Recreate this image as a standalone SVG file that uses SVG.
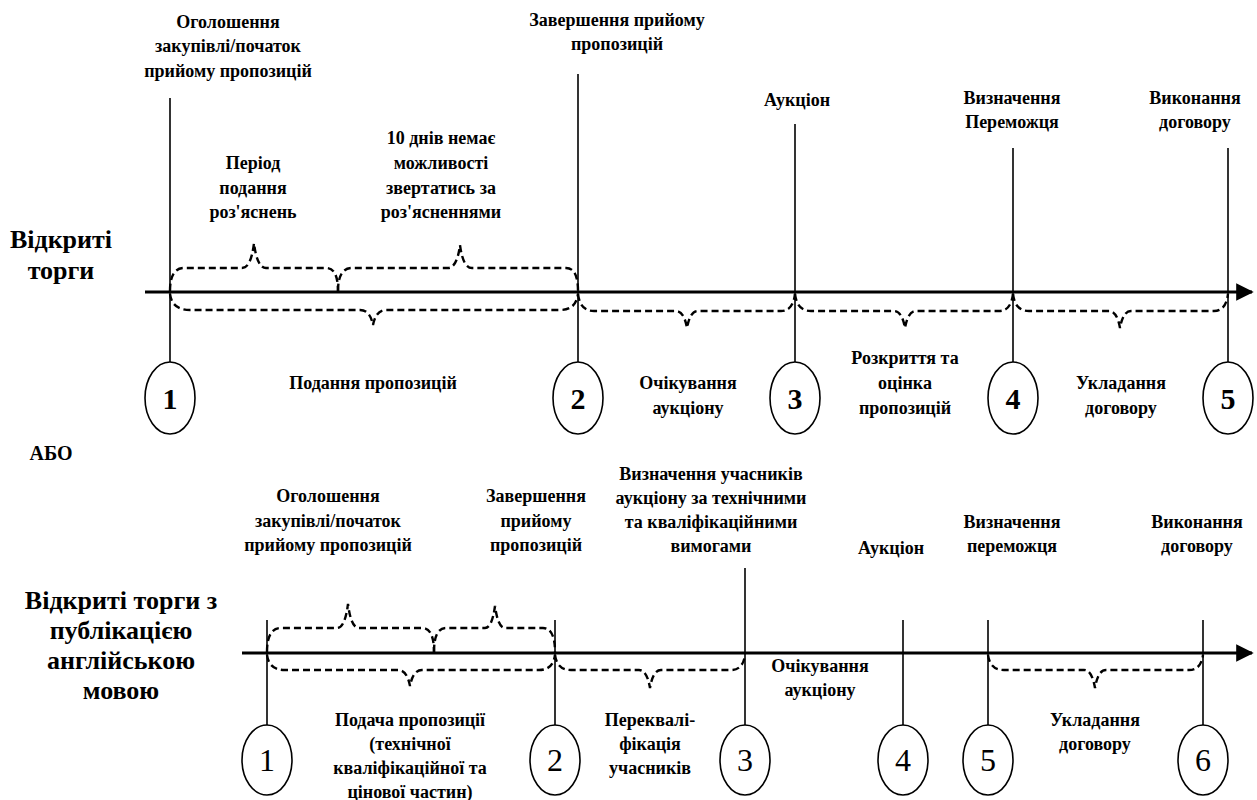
<svg xmlns="http://www.w3.org/2000/svg" width="1257" height="800" viewBox="0 0 1257 800">
<style>
  .lb { font-size: 18px; font-weight: bold; }
  .abo { font-size: 20px; font-weight: bold; }
  .big { font-size: 26px; font-weight: bold; }
  .numb { font-size: 30px; font-weight: bold; }
  .numn { font-size: 32px; font-weight: normal; }
  .vl { stroke: #000; stroke-width: 1.6; fill: none; }
  .ax { stroke: #000; stroke-width: 3.2; fill: none; }
  .el { stroke: #000; stroke-width: 1.6; fill: #fff; }
  .br { stroke: #000; stroke-width: 2.4; fill: none; stroke-dasharray: 7 4; }
</style>
<defs>
  <marker id="arr" viewBox="0 0 10 10" refX="9" refY="5" markerWidth="6" markerHeight="5.5" orient="auto" markerUnits="strokeWidth">
    <path d="M0,0 L10,5 L0,10 Z" fill="#000"/>
  </marker>
</defs>
<rect width="1257" height="800" fill="#fff"/>

<g id="connectors">
  <line class="ax" x1="145" y1="292" x2="1252" y2="292" marker-end="url(#arr)"/>
  <line class="ax" x1="242" y1="653" x2="1252" y2="653" marker-end="url(#arr)"/>
  <path class="br" d="M170,291 Q170,268 184,268 L242,268 Q251,268 254,243 Q257,268 266,268 L326,268 Q338,268 338,291"/>
  <path class="br" d="M338,291 Q338,268 352,268 L448,268 Q457,268 460,245 Q463,268 472,268 L566,268 Q578,268 578,291"/>
  <path class="br" d="M170,294 Q172,310 190,310 L360,310 Q370,310 373,325 Q376,310 386,310 L560,310 Q576,310 578,294"/>
  <path class="br" d="M578,294 Q580,311 594,311 L676,311 Q684,311 687,328 Q690,311 698,311 L781,311 Q793,311 795,294"/>
  <path class="br" d="M795,294 Q797,311 811,311 L894,311 Q902,311 905,328 Q908,311 916,311 L999,311 Q1011,311 1013,294"/>
  <path class="br" d="M1013,294 Q1015,311 1029,311 L1109,311 Q1117,311 1120,328 Q1123,311 1131,311 L1214,311 Q1226,311 1228,294"/>
  <path class="br" d="M267,652 Q267,628 281,628 L337,628 Q345,628 348,604 Q351,628 359,628 L422,628 Q434,628 434,652"/>
  <path class="br" d="M434,652 Q434,628 446,628 L485,628 Q492,628 495,606 Q498,628 505,628 L543,628 Q555,628 555,652"/>
  <path class="br" d="M267,655 Q269,670 285,670 L398,670 Q407,670 410,686 Q413,670 422,670 L539,670 Q553,670 555,655"/>
  <path class="br" d="M555,655 Q557,670 571,670 L639,670 Q647,670 650,688 Q653,670 661,670 L731,670 Q743,670 745,655"/>
  <path class="br" d="M988,655 Q990,670 1004,670 L1084,670 Q1092,670 1095,688 Q1098,670 1106,670 L1189,670 Q1201,670 1203,655"/>
</g>

<g font-family="Liberation Serif, DejaVu Serif, serif" text-anchor="middle" fill="#000">
<g id="m1">
  <line class="vl" x1="170" y1="98" x2="170" y2="362"/>
  <ellipse class="el" cx="170" cy="398" rx="25" ry="36"/>
  <text class="numb" x="170" y="409">1</text>
</g>
<g id="m2">
  <line class="vl" x1="578" y1="74" x2="578" y2="362"/>
  <ellipse class="el" cx="578" cy="398" rx="25" ry="36"/>
  <text class="numb" x="578" y="409">2</text>
</g>
<g id="m3">
  <line class="vl" x1="795" y1="124" x2="795" y2="362"/>
  <ellipse class="el" cx="795" cy="398" rx="25" ry="36"/>
  <text class="numb" x="795" y="409">3</text>
</g>
<g id="m4">
  <line class="vl" x1="1013" y1="148" x2="1013" y2="362"/>
  <ellipse class="el" cx="1013" cy="398" rx="25" ry="36"/>
  <text class="numb" x="1013" y="409">4</text>
</g>
<g id="m5">
  <line class="vl" x1="1228" y1="148" x2="1228" y2="362"/>
  <ellipse class="el" cx="1228" cy="398" rx="25" ry="36"/>
  <text class="numb" x="1228" y="409">5</text>
</g>

<g id="t-title">
  <text class="big" x="61" y="248">Відкриті</text>
  <text class="big" x="61" y="279">торги</text>
</g>
<g id="t-ogol">
  <text class="lb" x="228" y="28">Оголошення</text>
  <text class="lb" x="228" y="52">закупівлі/початок</text>
  <text class="lb" x="228" y="77">прийому пропозицій</text>
</g>
<g id="t-zav">
  <text class="lb" x="617" y="26">Завершення прийому</text>
  <text class="lb" x="617" y="50">пропозицій</text>
</g>
<g id="t-auk">
  <text class="lb" x="797" y="106">Аукціон</text>
</g>
<g id="t-vyzn">
  <text class="lb" x="1012" y="104">Визначення</text>
  <text class="lb" x="1012" y="128">Переможця</text>
</g>
<g id="t-vyk">
  <text class="lb" x="1195" y="104">Виконання</text>
  <text class="lb" x="1195" y="128">договору</text>
</g>
<g id="t-period">
  <text class="lb" x="253" y="169">Період</text>
  <text class="lb" x="253" y="194">подання</text>
  <text class="lb" x="253" y="218">роз'яснень</text>
</g>
<g id="t-10dniv">
  <text class="lb" x="441" y="144">10 днів немає</text>
  <text class="lb" x="441" y="169">можливості</text>
  <text class="lb" x="441" y="194">звертатись за</text>
  <text class="lb" x="441" y="218">роз'ясненнями</text>
</g>
<g id="t-podannia">
  <text class="lb" x="373" y="389">Подання пропозицій</text>
</g>
<g id="t-ochik1">
  <text class="lb" x="688" y="389">Очікування</text>
  <text class="lb" x="688" y="414">аукціону</text>
</g>
<g id="t-rozkr">
  <text class="lb" x="905" y="364">Розкриття та</text>
  <text class="lb" x="905" y="389">оцінка</text>
  <text class="lb" x="905" y="414">пропозицій</text>
</g>
<g id="t-uklad1">
  <text class="lb" x="1121" y="389">Укладання</text>
  <text class="lb" x="1121" y="414">договору</text>
</g>

<g id="t-abo">
  <text class="abo" x="51" y="460">АБО</text>
</g>

<g id="b1">
  <line class="vl" x1="267" y1="620" x2="267" y2="725"/>
  <ellipse class="el" cx="267" cy="760" rx="25" ry="35"/>
  <text class="numn" x="267" y="771">1</text>
</g>
<g id="b2">
  <line class="vl" x1="555" y1="620" x2="555" y2="725"/>
  <ellipse class="el" cx="555" cy="760" rx="25" ry="35"/>
  <text class="numn" x="555" y="771">2</text>
</g>
<g id="b3">
  <line class="vl" x1="745" y1="568" x2="745" y2="725"/>
  <ellipse class="el" cx="745" cy="760" rx="25" ry="35"/>
  <text class="numn" x="745" y="771">3</text>
</g>
<g id="b4">
  <line class="vl" x1="903" y1="620" x2="903" y2="725"/>
  <ellipse class="el" cx="903" cy="760" rx="25" ry="35"/>
  <text class="numn" x="903" y="771">4</text>
</g>
<g id="b5">
  <line class="vl" x1="988" y1="620" x2="988" y2="725"/>
  <ellipse class="el" cx="988" cy="760" rx="25" ry="35"/>
  <text class="numn" x="988" y="771">5</text>
</g>
<g id="b6">
  <line class="vl" x1="1203" y1="620" x2="1203" y2="725"/>
  <ellipse class="el" cx="1203" cy="760" rx="25" ry="35"/>
  <text class="numn" x="1203" y="771">6</text>
</g>

<g id="bt-title">
  <text class="big" x="121" y="609">Відкриті торги з</text>
  <text class="big" x="121" y="639">публікацією</text>
  <text class="big" x="121" y="669">англійською</text>
  <text class="big" x="121" y="699">мовою</text>
</g>
<g id="bt-ogol">
  <text class="lb" x="328" y="502">Оголошення</text>
  <text class="lb" x="328" y="527">закупівлі/початок</text>
  <text class="lb" x="328" y="551">прийому пропозицій</text>
</g>
<g id="bt-zav">
  <text class="lb" x="536" y="502">Завершення</text>
  <text class="lb" x="536" y="527">прийому</text>
  <text class="lb" x="536" y="551">пропозицій</text>
</g>
<g id="bt-vyznuch">
  <text class="lb" x="711" y="480">Визначення учасників</text>
  <text class="lb" x="711" y="504">аукціону за технічними</text>
  <text class="lb" x="711" y="528">та кваліфікаційними</text>
  <text class="lb" x="711" y="552">вимогами</text>
</g>
<g id="bt-auk">
  <text class="lb" x="891" y="554">Аукціон</text>
</g>
<g id="bt-vyzn">
  <text class="lb" x="1012" y="528">Визначення</text>
  <text class="lb" x="1012" y="552">переможця</text>
</g>
<g id="bt-vyk">
  <text class="lb" x="1197" y="528">Виконання</text>
  <text class="lb" x="1197" y="552">договору</text>
</g>
<g id="bt-ochik">
  <text class="lb" x="820" y="672">Очікування</text>
  <text class="lb" x="820" y="696">аукціону</text>
</g>
<g id="bt-podacha">
  <text class="lb" x="410" y="726">Подача пропозиції</text>
  <text class="lb" x="410" y="750">(технічної</text>
  <text class="lb" x="410" y="774">кваліфікаційної та</text>
  <text class="lb" x="410" y="798">цінової частин)</text>
</g>
<g id="bt-perekv">
  <text class="lb" x="650" y="726">Переквалі-</text>
  <text class="lb" x="650" y="750">фікація</text>
  <text class="lb" x="650" y="774">учасників</text>
</g>
<g id="bt-uklad">
  <text class="lb" x="1095" y="726">Укладання</text>
  <text class="lb" x="1095" y="750">договору</text>
</g>
</g>
</svg>
